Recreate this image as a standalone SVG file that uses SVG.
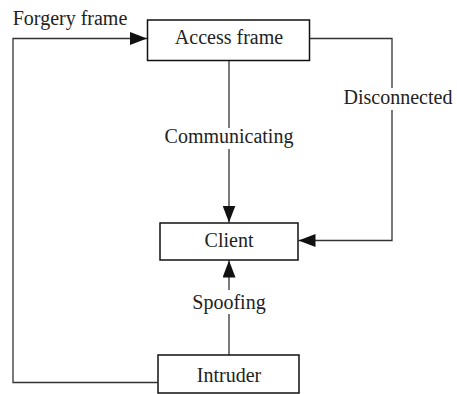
<svg xmlns="http://www.w3.org/2000/svg" width="457" height="394" viewBox="0 0 457 394">
<style>
.box{fill:#fff;stroke:#111;stroke-width:1.5}
.ln{fill:none;stroke:#333;stroke-width:1.3}
.t{font-family:"Liberation Serif","Times New Roman",serif;font-size:20px;fill:#222;text-anchor:middle}
</style>
<defs>
<marker id="ah" markerUnits="userSpaceOnUse" markerWidth="18" markerHeight="13" refX="17" refY="6.5" orient="auto">
<path d="M0,0 L17,6.5 L0,13 z" fill="#111"/>
</marker>
</defs>
<rect width="457" height="394" fill="#fff"/>
<g id="connectors">
<path class="ln" d="M229,60.5 V128"/>
<path class="ln" d="M229,149 V222.5" marker-end="url(#ah)"/>
<path class="ln" d="M310,38.5 H392 V88"/>
<path class="ln" d="M392,110 V240.5 H298.5" marker-end="url(#ah)"/>
<path class="ln" d="M229,355 V314"/>
<path class="ln" d="M229,290 V260.5" marker-end="url(#ah)"/>
<path class="ln" d="M157.5,382.5 H13 V38.5 H147" marker-end="url(#ah)"/>
<text class="t" x="229" y="143">Communicating</text>
<text class="t" x="398" y="104">Disconnected</text>
<text class="t" x="229" y="309">Spoofing</text>
<text class="t" x="70" y="25">Forgery frame</text>
</g>
<g id="access">
<rect class="box" x="147.5" y="20" width="162" height="40.5"/>
<text class="t" x="229" y="43.5">Access frame</text>
</g>
<g id="client">
<rect class="box" x="160" y="223" width="138" height="37"/>
<text class="t" x="229" y="247">Client</text>
</g>
<g id="intruder">
<rect class="box" x="158" y="355" width="141" height="38"/>
<text class="t" x="229" y="382">Intruder</text>
</g>
</svg>
